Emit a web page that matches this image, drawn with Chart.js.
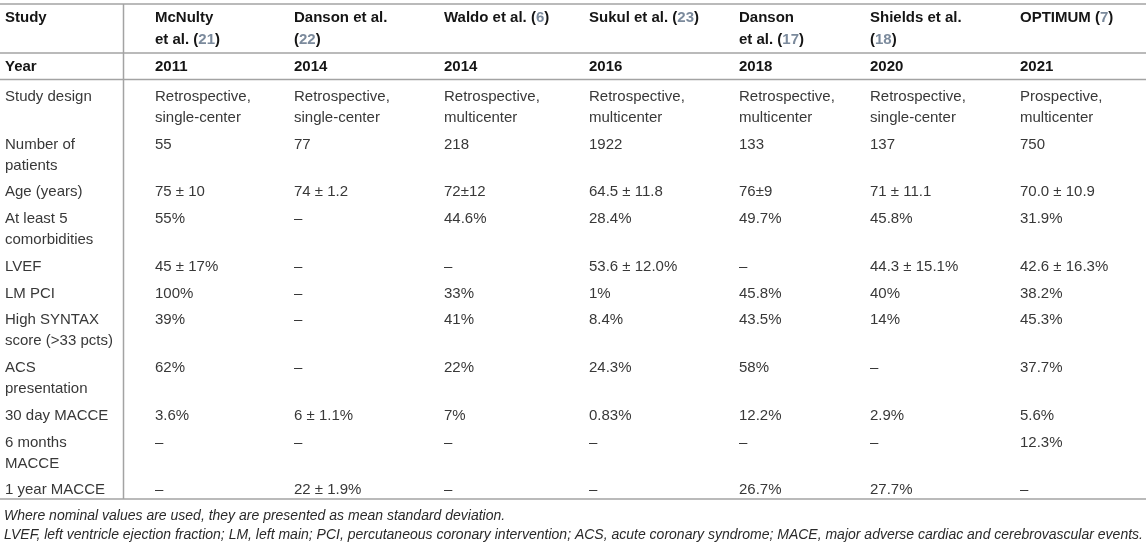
<!DOCTYPE html>
<html>
<head>
<meta charset="utf-8">
<script src="https://cdn.jsdelivr.net/npm/chart.js@4/dist/chart.umd.min.js"></script>
<style>
  html, body { margin: 0; padding: 0; background: #fff; }
  #wrap { width: 1146px; height: 546px; }
</style>
</head>
<body>
<div id="wrap"><canvas id="tbl" width="1146" height="546"></canvas></div>
<script>
// table content
const studies = ['McNulty\net al. (21)', 'Danson et al.\n(22)', 'Waldo et al. (6)', 'Sukul et al. (23)',
                 'Danson\net al. (17)', 'Shields et al.\n(18)', 'OPTIMUM (7)'];
const years = [2011, 2014, 2014, 2016, 2018, 2020, 2021];
const rowLabels = ['Study design', 'Number of\npatients', 'Age (years)', 'At least 5\ncomorbidities', 'LVEF',
                   'LM PCI', 'High SYNTAX\nscore (>33 pcts)', 'ACS\npresentation', '30 day MACCE',
                   '6 months\nMACCE', '1 year MACCE'];
const studyDesign = ['Retrospective,\nsingle-center', 'Retrospective,\nsingle-center', 'Retrospective,\nmulticenter',
                     'Retrospective,\nmulticenter', 'Retrospective,\nmulticenter', 'Retrospective,\nsingle-center',
                     'Prospective,\nmulticenter'];
const patients = [55, 77, 218, 1922, 133, 137, 750];
const age = ['75 ± 10', '74 ± 1.2', '72±12', '64.5 ± 11.8', '76±9', '71 ± 11.1', '70.0 ± 10.9'];
const comorbidities = ['55%', '–', '44.6%', '28.4%', '49.7%', '45.8%', '31.9%'];
const lvef = ['45 ± 17%', '–', '–', '53.6 ± 12.0%', '–', '44.3 ± 15.1%', '42.6 ± 16.3%'];
const lmPci = ['100%', '–', '33%', '1%', '45.8%', '40%', '38.2%'];
const highSyntax = ['39%', '–', '41%', '8.4%', '43.5%', '14%', '45.3%'];
const acs = ['62%', '–', '22%', '24.3%', '58%', '–', '37.7%'];
const macce30 = ['3.6%', '6 ± 1.1%', '7%', '0.83%', '12.2%', '2.9%', '5.6%'];
const macce6m = ['–', '–', '–', '–', '–', '–', '12.3%'];
const macce1y = ['–', '22 ± 1.9%', '–', '–', '26.7%', '27.7%', '–'];
const footnotes = ['Where nominal values are used, they are presented as mean standard deviation.',
  'LVEF, left ventricle ejection fraction; LM, left main; PCI, percutaneous coronary intervention; ACS, acute coronary syndrome; MACE, major adverse cardiac and cerebrovascular events.'];

const bodyRows = [studyDesign, patients, age, comorbidities, lvef, lmPci, highSyntax, acs, macce30, macce6m, macce1y];

// layout (page units = pixels of the 1146x546 scales)
const colX = [5, 155, 294, 444, 589, 739, 870, 1020];
const FONT = '"Liberation Sans", Arial, Helvetica, sans-serif';
const lineH = 21.3;
const rowPad = 5;

function lines(v) { return String(v).split('\n'); }

// draw text with "(nn)" reference numbers in a muted grey-blue
function drawRich(ctx, txt, x, y, color) {
  const parts = txt.split(/(\(\d+\))/);
  let cx = x;
  parts.forEach(p => {
    if (!p) return;
    const m = p.match(/^\((\d+)\)$/);
    if (m) {
      ctx.fillStyle = color; ctx.fillText('(', cx, y); cx += ctx.measureText('(').width;
      ctx.fillStyle = '#7b8a9c'; ctx.fillText(m[1], cx, y); cx += ctx.measureText(m[1]).width;
      ctx.fillStyle = color; ctx.fillText(')', cx, y); cx += ctx.measureText(')').width;
    } else {
      ctx.fillStyle = color; ctx.fillText(p, cx, y); cx += ctx.measureText(p).width;
    }
  });
}

const tablePlugin = {
  id: 'tablePlugin',
  afterDraw(chart) {
    const { ctx, scales: { x, y } } = chart;
    const px = v => x.getPixelForValue(v);
    const py = v => y.getPixelForValue(v);
    ctx.save();
    ctx.textBaseline = 'middle';
    ctx.textAlign = 'left';

    // rules
    ctx.strokeStyle = '#a3a3a3';
    ctx.lineWidth = 1.5;
    [4, 53, 79.5, 499].forEach(v => {
      ctx.beginPath(); ctx.moveTo(px(0), py(v)); ctx.lineTo(px(1146), py(v)); ctx.stroke();
    });
    ctx.beginPath(); ctx.moveTo(px(123.5), py(4)); ctx.lineTo(px(123.5), py(499)); ctx.stroke();

    // header row
    ctx.font = 'bold 15px ' + FONT;
    drawRich(ctx, 'Study', px(colX[0]), py(18), '#151515');
    studies.forEach((s, i) => {
      lines(s).forEach((ln, k) => drawRich(ctx, ln, px(colX[i + 1]), py(18 + k * 22), '#151515'));
    });

    // year row
    drawRich(ctx, 'Year', px(colX[0]), py(67), '#151515');
    years.forEach((yr, i) => drawRich(ctx, String(yr), px(colX[i + 1]), py(67), '#151515'));

    // body rows
    ctx.font = '15px ' + FONT;
    let top = 96.5;
    rowLabels.forEach((lab, r) => {
      let n = lines(lab).length;
      lines(lab).forEach((ln, k) => drawRich(ctx, ln, px(colX[0]), py(top + k * lineH), '#383838'));
      bodyRows[r].forEach((v, i) => {
        const ls = lines(v);
        n = Math.max(n, ls.length);
        ls.forEach((ln, k) => drawRich(ctx, ln, px(colX[i + 1]), py(top + k * lineH), '#383838'));
      });
      top += n * lineH + rowPad + 0.3;
    });

    // footnotes
    ctx.font = 'italic 14px ' + FONT;
    footnotes.forEach((f, k) => drawRich(ctx, f, px(4), py(516 + k * 19.5), '#2a2a2a'));
    ctx.restore();
  }
};

new Chart(document.getElementById('tbl'), {
  type: 'scatter',
  data: { datasets: [{ data: [] }] },
  options: {
    responsive: false,
    animation: false,
    layout: { padding: 0 },
    plugins: { legend: { display: false }, tooltip: { enabled: false } },
    scales: {
      x: { type: 'linear', min: 0, max: 1146, display: false },
      y: { type: 'linear', min: 0, max: 546, reverse: true, display: false }
    }
  },
  plugins: [tablePlugin]
});
</script>
</body>
</html>
